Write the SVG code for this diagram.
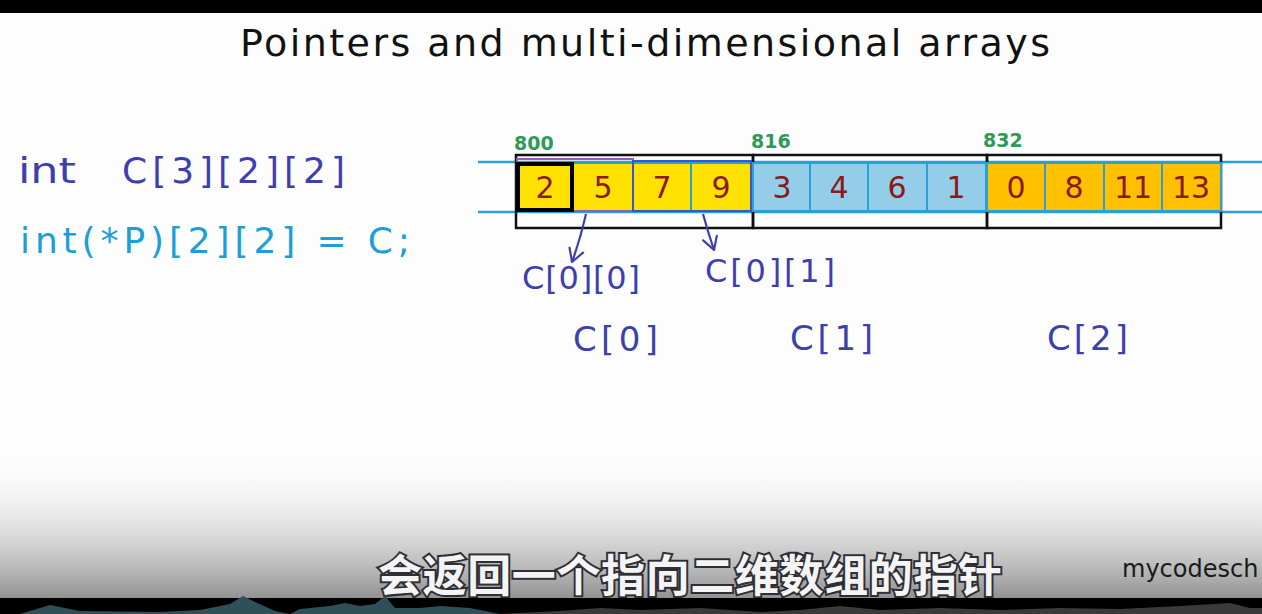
<svg xmlns="http://www.w3.org/2000/svg" width="1262" height="614" viewBox="0 0 1262 614">
<defs>
<linearGradient id="bg" x1="0" y1="0" x2="0" y2="1">
<stop offset="0" stop-color="#ffffff" stop-opacity="0"/>
<stop offset="1" stop-color="#8f8f8f"/>
</linearGradient>
<marker id="ah" viewBox="0 0 10 10" refX="9" refY="5" markerWidth="18" markerHeight="18" orient="auto" markerUnits="userSpaceOnUse">
<path d="M2,1 L9,5 L2,9" fill="none" stroke="#3d3fae" stroke-width="1.2" stroke-linecap="round" stroke-linejoin="round"/>
</marker>
<style>
.cell{stroke:#2aa0d8;stroke-width:2}
.y{fill:#ffe100}.b{fill:#93cde8}.o{fill:#ffc000}
.num{font-family:"DejaVu Sans","Liberation Sans",sans-serif;font-size:30px;fill:#8a1a1c;text-anchor:middle}
.addr{font-family:"DejaVu Sans","Liberation Sans",sans-serif;font-size:19px;fill:#2e9a58;font-weight:bold}
.lbl{font-family:"DejaVu Sans","Liberation Sans",sans-serif;fill:#3d3fae}
.outer{fill:none;stroke:#111;stroke-width:2.5}
</style>
</defs>
<rect width="1262" height="614" fill="#fdfdfd"/>
<rect x="0" y="450" width="1262" height="150" fill="url(#bg)"/>
<rect x="0" y="0" width="1262" height="13" fill="#000"/>

<g id="title">
<text x="240" y="56" font-family="DejaVu Sans, sans-serif" font-size="38" fill="#111" textLength="810" lengthAdjust="spacing">Pointers and multi-dimensional arrays</text>
</g>

<g id="code">
<text x="18" y="183" class="lbl" font-size="36" textLength="58" lengthAdjust="spacingAndGlyphs">int</text>
<text x="122" y="183" class="lbl" font-size="36" textLength="223" lengthAdjust="spacing">C[3][2][2]</text>
<text x="20" y="253" font-family="DejaVu Sans, sans-serif" font-size="36" fill="#1b9fd8" textLength="390" lengthAdjust="spacing">int(*P)[2][2] = C;</text>
</g>

<g id="array">
<line x1="478" y1="162" x2="1262" y2="162" stroke="#2aa0d8" stroke-width="2.5"/>
<line x1="478" y1="212" x2="1262" y2="212" stroke="#2aa0d8" stroke-width="2.5"/>
<rect x="516" y="155" width="237" height="73" class="outer"/>
<rect x="753" y="155" width="234" height="73" class="outer"/>
<rect x="987" y="155" width="234" height="73" class="outer"/>
<g id="c000"><rect x="517" y="163" width="56" height="48" class="y cell"/><text x="545" y="198" class="num">2</text></g>
<g id="c001"><rect x="573" y="163" width="60" height="48" class="y cell"/><text x="603" y="198" class="num">5</text></g>
<g id="c010"><rect x="633" y="163" width="58" height="48" class="y cell"/><text x="662" y="198" class="num">7</text></g>
<g id="c011"><rect x="691" y="163" width="60" height="48" class="y cell"/><text x="721" y="198" class="num">9</text></g>
<g id="c100"><rect x="753" y="163" width="57" height="48" class="b cell"/><text x="782" y="198" class="num">3</text></g>
<g id="c101"><rect x="810" y="163" width="58" height="48" class="b cell"/><text x="839" y="198" class="num">4</text></g>
<g id="c110"><rect x="868" y="163" width="59" height="48" class="b cell"/><text x="897" y="198" class="num">6</text></g>
<g id="c111"><rect x="927" y="163" width="59" height="48" class="b cell"/><text x="956" y="198" class="num">1</text></g>
<g id="c200"><rect x="987" y="163" width="58" height="48" class="o cell"/><text x="1016" y="198" class="num">0</text></g>
<g id="c201"><rect x="1045" y="163" width="59" height="48" class="o cell"/><text x="1074" y="198" class="num">8</text></g>
<g id="c210"><rect x="1104" y="163" width="58" height="48" class="o cell"/><text x="1133" y="198" class="num">11</text></g>
<g id="c211"><rect x="1162" y="163" width="59" height="48" class="o cell"/><text x="1191" y="198" class="num">13</text></g>
<rect x="517" y="159" width="116" height="52" fill="none" stroke="#9b59b6" stroke-width="2"/>
<rect x="633" y="161" width="118" height="50" fill="none" stroke="#3d55c8" stroke-width="2"/>
<rect x="518" y="164" width="54" height="46" fill="none" stroke="#000" stroke-width="4"/>
<text x="514" y="150" class="addr">800</text>
<text x="751" y="148" class="addr">816</text>
<text x="983" y="147" class="addr">832</text>
</g>

<g id="connectors" fill="none" stroke="#3d3fae" stroke-width="2.2">
<path d="M586,214 Q580,240 572,262" marker-end="url(#ah)"/>
<path d="M703,214 Q708,232 714,250" marker-end="url(#ah)"/>
</g>

<g id="labels">
<text x="522" y="289" class="lbl" font-size="32" textLength="118" lengthAdjust="spacing">C[0][0]</text>
<text x="705" y="282" class="lbl" font-size="32" textLength="130" lengthAdjust="spacing">C[0][1]</text>
<text x="573" y="351" class="lbl" font-size="34" textLength="85" lengthAdjust="spacing">C[0]</text>
<text x="790" y="350" class="lbl" font-size="34" textLength="83" lengthAdjust="spacing">C[1]</text>
<text x="1047" y="350" class="lbl" font-size="34" textLength="81" lengthAdjust="spacing">C[2]</text>
</g>

<g id="subtitle">
<text x="378" y="592" font-family="Noto Sans CJK SC, sans-serif" font-weight="bold" font-size="44" fill="#f4f4f4" stroke="#2e2e36" stroke-width="4" paint-order="stroke" textLength="624" lengthAdjust="spacing">会返回一个指向二维数组的指针</text>
<text x="1122" y="577" font-family="DejaVu Sans, sans-serif" font-size="24" fill="#1a1a1a">mycodesch</text>
</g>

<g id="bottom">
<rect x="0" y="598" width="1262" height="16" fill="#000"/>
<path d="M20,614 L40,608 L50,605 L60,607 L80,611 L160,612 L200,610 L230,604 L243,596 L255,602 L275,611 L290,614 L300,609 L330,606 L345,603 L360,606 L375,604 L385,596 L395,608 L420,608 L440,606 L470,608 L490,612 L500,614 Z" fill="#2f5058"/>
<path d="M500,614 L560,611 L600,608 L640,610 L700,608 L760,612 L800,610 L840,606 L880,610 L940,608 L1000,610 L1060,608 L1120,609 L1180,606 L1230,603 L1250,608 L1262,608 L1262,614 Z" fill="#3a3a3a"/>
</g>
</svg>
